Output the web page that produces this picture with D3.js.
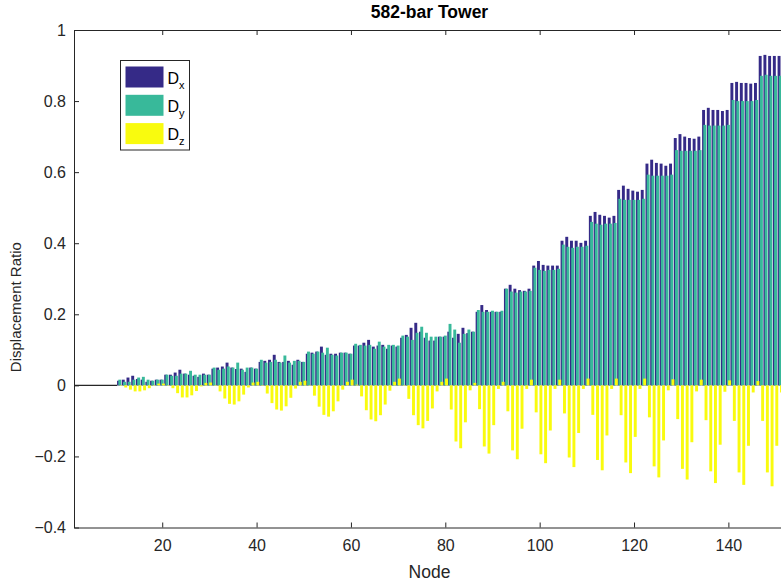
<!DOCTYPE html>
<html>
<head>
<meta charset="utf-8">
<script src="https://cdn.jsdelivr.net/npm/d3@7"></script>
<style>
  body { margin: 0; background: #fff; }
  svg { display: block; font-family: "Liberation Sans", Arial, sans-serif; }
</style>
</head>
<body>
<div id="chart"></div>
<script>
// Node numbers that carry results (nodes 1-10 are the supports)
const nodes = d3.range(11, 153);

// Displacement ratios, one value per node
const dx = [
  0.013, 0.016, 0.022, 0.027, 0.018, 0.016, 0.010, 0.013, 0.016, 0.016,
  0.030, 0.030, 0.036, 0.044, 0.033, 0.030, 0.027, 0.024, 0.033, 0.030,
  0.047, 0.050, 0.053, 0.064, 0.050, 0.046, 0.047, 0.038, 0.050, 0.047,
  0.066, 0.069, 0.072, 0.086, 0.066, 0.066, 0.069, 0.058, 0.072, 0.066,
  0.089, 0.092, 0.095, 0.109, 0.086, 0.089, 0.089, 0.092, 0.092, 0.089,
  0.112, 0.112, 0.120, 0.128, 0.109, 0.112, 0.114, 0.103, 0.112, 0.109,
  0.134, 0.142, 0.162, 0.176, 0.151, 0.134, 0.126, 0.126, 0.137, 0.137,
  0.151, 0.134, 0.145, 0.162, 0.147, 0.151,
  0.207, 0.226, 0.212, 0.207, 0.207, 0.207,
  0.272, 0.283, 0.272, 0.268, 0.266, 0.272,
  0.337, 0.350, 0.339, 0.337, 0.337, 0.337,
  0.407, 0.418, 0.407, 0.407, 0.401, 0.407,
  0.477, 0.488, 0.480, 0.477, 0.472, 0.477,
  0.550, 0.562, 0.553, 0.548, 0.545, 0.550,
  0.624, 0.635, 0.626, 0.624, 0.618, 0.624,
  0.696, 0.707, 0.700, 0.696, 0.694, 0.700,
  0.775, 0.781, 0.775, 0.775, 0.772, 0.775,
  0.851, 0.854, 0.851, 0.851, 0.849, 0.851,
  0.927, 0.930, 0.927, 0.927, 0.927, 0.927
];
const dy = [
  0.016, 0.010, 0.010, 0.016, 0.022, 0.024, 0.016, 0.013, 0.016, 0.016,
  0.030, 0.027, 0.027, 0.033, 0.033, 0.041, 0.030, 0.030, 0.030, 0.030,
  0.050, 0.044, 0.047, 0.053, 0.050, 0.064, 0.044, 0.050, 0.050, 0.047,
  0.072, 0.064, 0.066, 0.072, 0.064, 0.084, 0.064, 0.069, 0.069, 0.066,
  0.095, 0.089, 0.095, 0.092, 0.106, 0.086, 0.084, 0.092, 0.092, 0.089,
  0.117, 0.114, 0.112, 0.114, 0.103, 0.123, 0.109, 0.114, 0.114, 0.112,
  0.140, 0.137, 0.128, 0.148, 0.165, 0.148, 0.137, 0.137, 0.137, 0.140,
  0.173, 0.157, 0.120, 0.145, 0.157, 0.151,
  0.212, 0.207, 0.207, 0.210, 0.207, 0.210,
  0.272, 0.264, 0.261, 0.264, 0.264, 0.266,
  0.331, 0.325, 0.322, 0.325, 0.325, 0.328,
  0.396, 0.390, 0.387, 0.390, 0.390, 0.393,
  0.460, 0.455, 0.452, 0.455, 0.455, 0.457,
  0.525, 0.522, 0.522, 0.522, 0.522, 0.525,
  0.593, 0.590, 0.590, 0.590, 0.590, 0.593,
  0.662, 0.660, 0.660, 0.660, 0.660, 0.662,
  0.733, 0.731, 0.731, 0.731, 0.731, 0.733,
  0.803, 0.800, 0.800, 0.800, 0.800, 0.803,
  0.871, 0.874, 0.871, 0.871, 0.871, 0.874
];
const dz = [
  0.001, -0.006, -0.012, -0.017, -0.017, -0.014, -0.008, -0.001, 0.005, 0.005,
  0.001, -0.008, -0.022, -0.034, -0.034, -0.028, -0.016, -0.003, 0.007, 0.008,
  0.001, -0.017, -0.037, -0.052, -0.054, -0.045, -0.026, -0.006, 0.008, 0.010,
  0.001, -0.023, -0.050, -0.068, -0.071, -0.059, -0.035, -0.009, 0.010, 0.013,
  0.001, -0.029, -0.060, -0.083, -0.088, -0.073, -0.045, -0.012, 0.010, 0.016,
  0.002, -0.031, -0.070, -0.096, -0.101, -0.084, -0.054, -0.015, 0.010, 0.019,
  0.001, -0.038, -0.084, -0.112, -0.121, -0.100, -0.065, -0.017, 0.010, 0.019,
  -0.068, -0.158, -0.177, -0.104, -0.014, 0.007,
  -0.067, -0.172, -0.192, -0.112, -0.010, 0.010,
  -0.073, -0.183, -0.208, -0.122, -0.010, 0.016,
  -0.076, -0.194, -0.219, -0.127, -0.010, 0.016,
  -0.079, -0.203, -0.230, -0.134, -0.010, 0.019,
  -0.083, -0.210, -0.239, -0.141, -0.010, 0.019,
  -0.084, -0.217, -0.247, -0.145, -0.010, 0.019,
  -0.090, -0.228, -0.259, -0.155, -0.014, 0.017,
  -0.095, -0.235, -0.265, -0.160, -0.017, 0.016,
  -0.098, -0.242, -0.275, -0.167, -0.018, 0.014,
  -0.100, -0.245, -0.280, -0.170, -0.020, 0.012,
  -0.100, -0.245, -0.284, -0.170, -0.020, 0.013
];

const seriesNames = ['x', 'y', 'z'];
const seriesColors = ['#352a87', '#38b99a', '#f9fb0e'];
const xTicks = [20, 40, 60, 80, 100, 120, 140];
const yTicks = [-0.4, -0.2, 0, 0.2, 0.4, 0.6, 0.8, 1];

const W = 781, H = 583;
// the axes run a few pixels past the right edge of the picture
const margin = { left: 74, top: 30, right: -4, bottom: 55.5 };
const width = W - margin.left - margin.right;
const height = H - margin.top - margin.bottom;

const svg = d3.select('#chart').append('svg')
  .attr('width', W)
  .attr('height', H);
const g = svg.append('g')
  .attr('transform', 'translate(' + margin.left + ',' + margin.top + ')');

// Scales
const x = d3.scaleLinear().domain([1.3, 152]).range([0, width]);
const y = d3.scaleLinear().domain([-0.4, 1]).range([height, 0]);

const step = x(2) - x(1);
const barW = step * 0.62;
const offsets = [-0.26, 0, 0.26];

// Zero baseline: dark before the first bar, pale under the bars
g.append('line')
  .attr('x1', 0).attr('x2', x(nodes[0]) - step / 2)
  .attr('y1', y(0)).attr('y2', y(0))
  .attr('stroke', '#262626').attr('stroke-width', 1.2);
g.append('line')
  .attr('x1', x(nodes[0]) - step / 2).attr('x2', width)
  .attr('y1', y(0)).attr('y2', y(0))
  .attr('stroke', '#cfcfcf').attr('stroke-width', 1.2);

// Bars
[dx, dy, dz].forEach(function(vals, i) {
  g.append('g')
    .selectAll('rect')
    .data(nodes)
    .enter()
    .append('rect')
    .attr('x', function(d) { return x(d) + offsets[i] * step - barW / 2; })
    .attr('width', barW)
    .attr('y', function(d, j) { return y(Math.max(0, vals[j])); })
    .attr('height', function(d, j) { return Math.abs(y(vals[j]) - y(0)); })
    .attr('fill', seriesColors[i]);
});

// Axes
const axisColor = '#262626';
const xAxis = g.append('g')
  .attr('transform', 'translate(0,' + height + ')')
  .call(d3.axisBottom(x).tickValues(xTicks).tickSizeInner(-5).tickSizeOuter(0).tickPadding(12));
const xTop = g.append('g')
  .call(d3.axisTop(x).tickValues(xTicks).tickSizeInner(-5).tickSizeOuter(0).tickFormat(''));
const yAxis = g.append('g')
  .call(d3.axisLeft(y).tickValues(yTicks).tickSizeInner(-5).tickSizeOuter(0).tickPadding(8)
    .tickFormat(function(d) { return d3.format('')(+d.toFixed(1)); }));

[xAxis, xTop, yAxis].forEach(function(a) {
  a.select('.domain').attr('stroke', axisColor).attr('stroke-width', 1);
  a.selectAll('.tick line').attr('stroke', axisColor);
  a.selectAll('.tick text')
    .attr('fill', axisColor)
    .style('font-size', '16px')
    .style('font-family', '"Liberation Sans", Arial, sans-serif');
});

// Labels
g.append('text')
  .attr('x', width / 2)
  .attr('y', height + 50)
  .attr('text-anchor', 'middle')
  .attr('fill', axisColor)
  .style('font-size', '17.5px')
  .text('Node');
g.append('text')
  .attr('transform', 'rotate(-90)')
  .attr('x', -(y(0.22)))
  .attr('y', -53)
  .attr('text-anchor', 'middle')
  .attr('fill', axisColor)
  .style('font-size', '15px')
  .text('Displacement Ratio');
g.append('text')
  .attr('x', width / 2)
  .attr('y', -12)
  .attr('text-anchor', 'middle')
  .attr('fill', '#000')
  .style('font-size', '17.5px')
  .style('font-weight', 'bold')
  .text('582-bar Tower');

// Legend
const legend = g.append('g').attr('transform', 'translate(46.5,30.5)');
legend.append('rect')
  .attr('width', 69)
  .attr('height', 89.5)
  .attr('fill', '#fff')
  .attr('stroke', axisColor)
  .attr('stroke-width', 1);
const item = legend.selectAll('.item')
  .data(seriesNames)
  .enter()
  .append('g')
  .attr('class', 'item')
  .attr('transform', function(d, i) { return 'translate(5,' + (6 + i * 28.3) + ')'; });
item.append('rect')
  .attr('width', 38)
  .attr('height', 21)
  .attr('fill', function(d, i) { return seriesColors[i]; });
const label = item.append('text')
  .attr('x', 42)
  .attr('y', 17)
  .attr('fill', '#000')
  .style('font-size', '16px');
label.append('tspan').text('D');
label.append('tspan')
  .attr('dy', 5)
  .style('font-size', '11px')
  .text(function(d) { return d; });
</script>
</body>
</html>
